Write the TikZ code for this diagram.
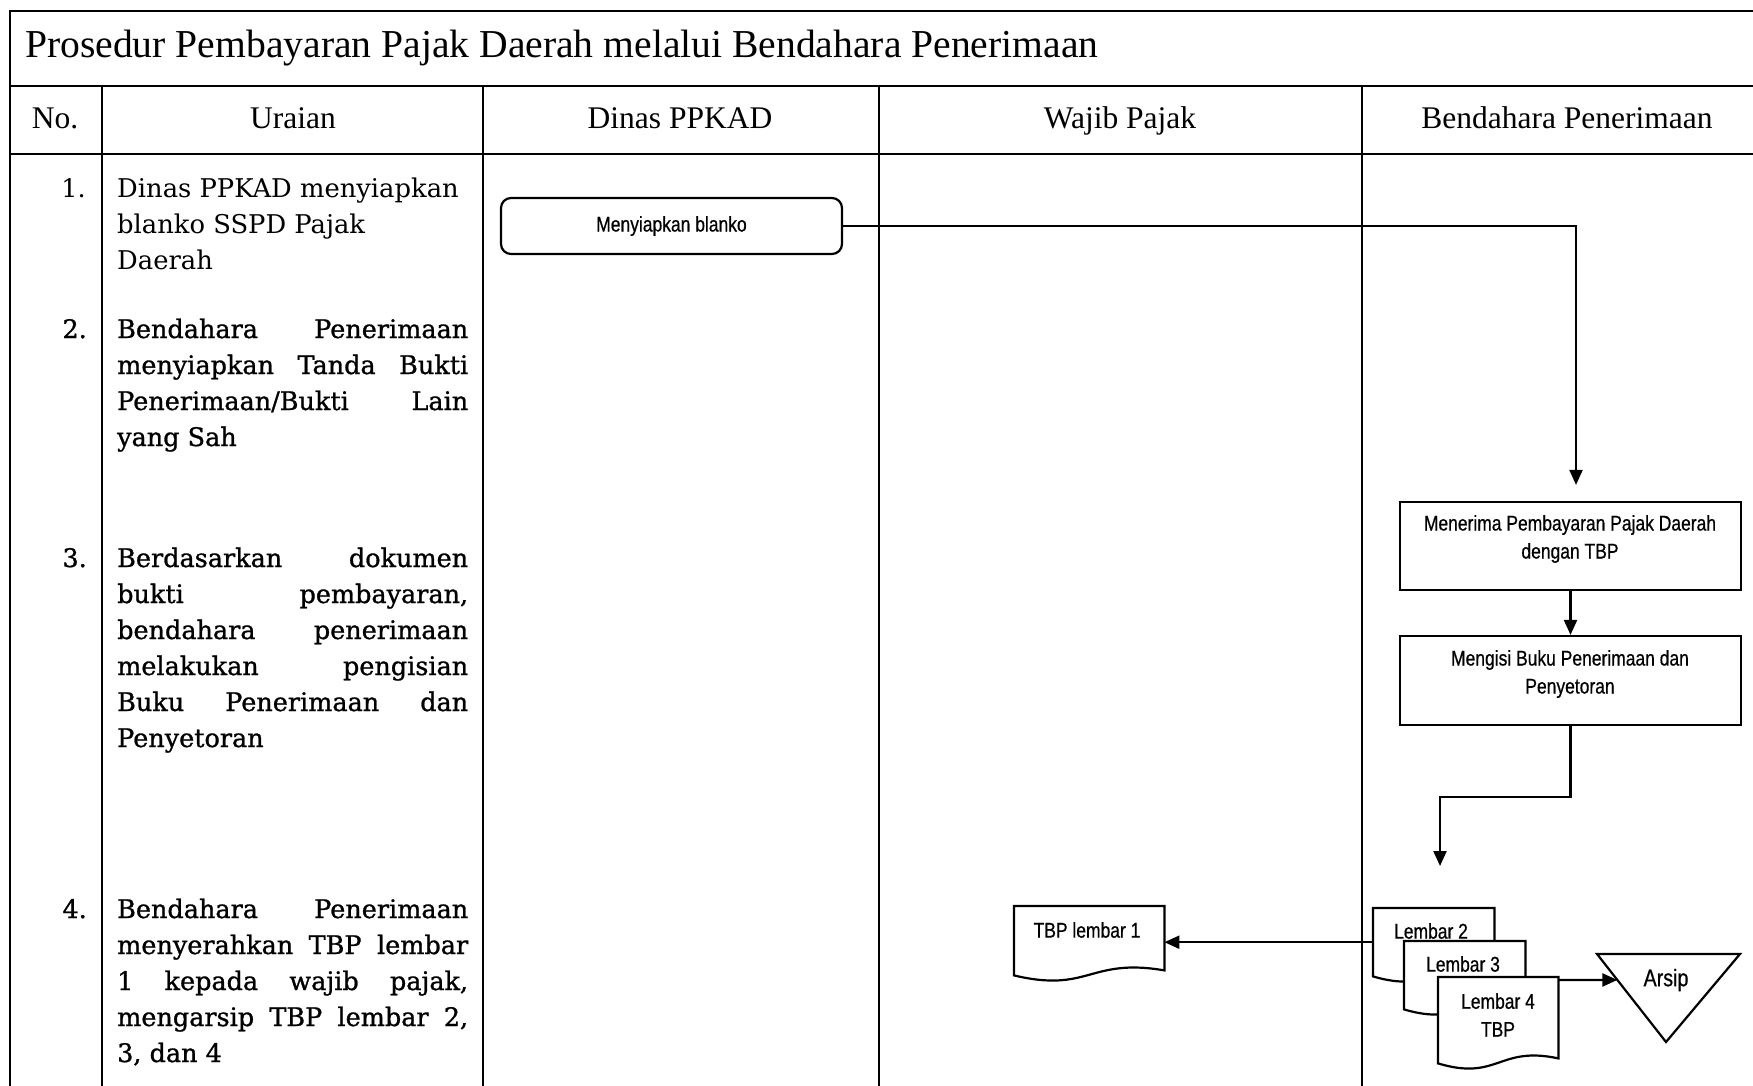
\documentclass[tikz,border=0pt]{standalone}
\usepackage{fontspec}
\setmainfont{DejaVu Serif}
\newfontfamily\capfont{Liberation Serif}
\newfontfamily\chartfont[FakeStretch=0.82,FakeBold=0.6]{Liberation Sans}
\newfontfamily\stepfont{DejaVu Serif}
\newfontfamily\stepfontheavy[FakeBold=1]{DejaVu Serif}
\usetikzlibrary{arrows.meta,calc}

% one justified line of the step description column
\newcommand\jline[1]{\makebox[351pt][s]{#1}}
% flowchart document symbol drawn around an (empty) frame node
\newcommand\docshape[1]{%
  \draw[chartline,fill=white] (#1.north west) -- (#1.north east) -- ($(#1.south east)+(0,-5)$)
    .. controls ($(#1.south west)!0.5!(#1.south east)+(0,-18)$) and ($(#1.south west)!0.5!(#1.south east)+(0,18)$) .. (#1.south west) -- cycle;}

\begin{document}
\begin{tikzpicture}[x=1pt,y=-1pt,
  rule/.style={line width=2.6pt},
  chartline/.style={line width=2.2pt},
  conn/.style={chartline,-{Triangle[length=15pt,width=13pt]}},
  procbox/.style={draw,chartline,minimum width=341pt,inner sep=0pt},
  chartlabel/.style={font=\chartfont\fontsize{21.3}{28}\selectfont,align=center,inner sep=0pt},
  docframe/.style={inner sep=0pt,anchor=north west},
  colhead/.style={font=\capfont\fontsize{31.5}{36}\selectfont,inner sep=0pt,anchor=base},
  stepno/.style={anchor=base east,inner sep=0pt},
  steptext/.style={anchor=base west,inner sep=0pt},
]
\useasboundingbox (0,0) rectangle (1753,1086);

% table rules
\draw[rule] (10,1086) -- (10,11) -- (1753,11);
\draw[rule] (10,86) -- (1753,86);
\draw[rule] (10,154) -- (1753,154);
\foreach \x in {102,483,879,1362} \draw[rule] (\x,86) -- (\x,1086);

% title and column heads
\node[anchor=base west,inner sep=0pt,font=\capfont\fontsize{39.6}{44}\selectfont] (title) at (25,58)
  {Prosedur Pembayaran Pajak Daerah melalui Bendahara Penerimaan};
\node[colhead] (hno) at (55,128.5) {No.};
\node[colhead] (huraian) at (293,128.5) {Uraian};
\node[colhead] (hdinas) at (680,128.5) {Dinas PPKAD};
\node[colhead] (hwajib) at (1120,128.5) {Wajib Pajak};
\node[colhead] (hbend) at (1567,128.5) {Bendahara Penerimaan};

% step numbers
\node[stepno,font=\stepfont\fontsize{25.5}{36}\selectfont] (n1) at (86,197) {1.};
\node[stepno,font=\stepfontheavy\fontsize{25.5}{36}\selectfont] (n2) at (87,338) {2.};
\node[stepno,font=\stepfontheavy\fontsize{25.5}{36}\selectfont] (n3) at (87,567) {3.};
\node[stepno,font=\stepfontheavy\fontsize{25.5}{36}\selectfont] (n4) at (87,918) {4.};

% step descriptions
\node[steptext] (u1) at (117,197) {\parbox[t]{360pt}{\stepfont\fontsize{25.8}{36}\selectfont\raggedright
  Dinas PPKAD menyiapkan\\blanko SSPD Pajak\\Daerah}};
\node[steptext] (u2) at (117,338) {\parbox[t]{360pt}{\stepfontheavy\fontsize{25.5}{36}\selectfont\raggedright
  \jline{Bendahara Penerimaan}\\\jline{menyiapkan Tanda Bukti}\\\jline{Penerimaan/Bukti Lain}\\yang Sah}};
\node[steptext] (u3) at (117,567) {\parbox[t]{360pt}{\stepfontheavy\fontsize{25.5}{36}\selectfont\raggedright
  \jline{Berdasarkan dokumen}\\\jline{bukti pembayaran,}\\\jline{bendahara penerimaan}\\\jline{melakukan pengisian}\\\jline{Buku Penerimaan dan}\\Penyetoran}};
\node[steptext] (u4) at (117,918) {\parbox[t]{360pt}{\stepfontheavy\fontsize{25.5}{36}\selectfont\raggedright
  \jline{Bendahara Penerimaan}\\\jline{menyerahkan TBP lembar}\\\jline{1 kepada wajib pajak,}\\\jline{mengarsip TBP lembar 2,}\\3, dan 4}};

% flowchart
\node[procbox,rounded corners=10pt,minimum height=56pt,font=\chartfont\fontsize{21.3}{28}\selectfont] (blanko) at (671.5,226) {Menyiapkan blanko};

\node[procbox,minimum height=88pt] (terima) at (1570.5,546) {};
\node[chartlabel] (terimatext) at (1570,539) {Menerima Pembayaran Pajak Daerah\\dengan TBP};

\node[procbox,minimum height=89pt] (isi) at (1570.5,680.5) {};
\node[chartlabel] (isitext) at (1570,674) {Mengisi Buku Penerimaan dan\\Penyetoran};

\coordinate (drop) at (1440,866);

\node[docframe,minimum width=150pt,minimum height=69pt] (tbp1) at (1014,906) {};
\docshape{tbp1}
\node[chartlabel] (tbp1text) at (1087,930) {TBP lembar 1};

\node[docframe,minimum width=121pt,minimum height=68pt] (lem2) at (1373,908) {};
\docshape{lem2}
\node[chartlabel] (lem2text) at (1431,931) {Lembar 2};

\node[docframe,minimum width=121pt,minimum height=68pt] (lem3) at (1404,941) {};
\docshape{lem3}
\node[chartlabel] (lem3text) at (1463,964) {Lembar 3};

\node[docframe,minimum width=120pt,minimum height=86pt] (lem4) at (1438,977) {};
\docshape{lem4}
\node[chartlabel] (lem4text) at (1498,1015) {Lembar 4\\TBP};

% archive symbol
\coordinate (ta) at (1597,954);
\coordinate (tb) at (1740,954);
\coordinate (tc) at (1666,1042);
\draw[chartline] (ta) -- (tb) -- (tc) -- cycle;
\node[chartlabel,font=\chartfont\fontsize{24}{28}\selectfont] (arsip) at (1666,980) {Arsip};
\coordinate (arsipin) at ($(ta)!0.295!(tc)$);

% connectors
\draw[conn,shorten >=16pt] (blanko.east) -| ([xshift=5.5pt]terima.north);
\draw[conn] (terima.south) -- (isi.north);
\draw[conn] (isi.south) -- ++(0,71) -| (drop);
\draw[conn] (lem2.west) -- (lem2.west -| tbp1.east);
\draw[conn] ($(lem4.north east)+(0,3)$) -- (arsipin);
\end{tikzpicture}
\end{document}
